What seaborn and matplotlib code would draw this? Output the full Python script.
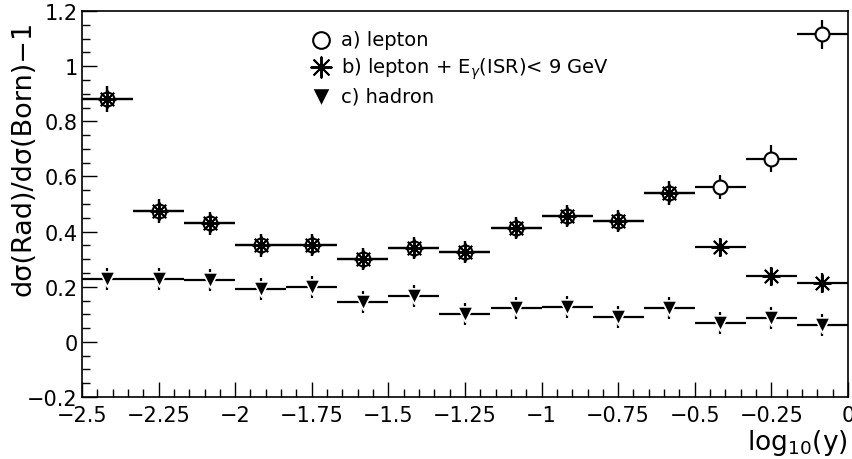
import matplotlib
matplotlib.use("Agg")
import matplotlib.pyplot as plt
import seaborn as sns
import pandas as pd
from matplotlib.ticker import MultipleLocator, FuncFormatter

# ---- data ----
bin_centers = [-2.4167, -2.25, -2.0833, -1.9167, -1.75, -1.5833, -1.4167, -1.25,
               -1.0833, -0.9167, -0.75, -0.5833, -0.4167, -0.25, -0.0833]
bin_halfwidth = [0.0833] * 15

lepton = [0.88, 0.475, 0.43, 0.35, 0.35, 0.30, 0.34, 0.327, 0.413, 0.455, 0.437,
          0.54, 0.562, 0.665, 1.115]
lepton_err = [0.048, 0.043, 0.041, 0.041, 0.04, 0.04, 0.04, 0.04, 0.04, 0.04, 0.04,
              0.042, 0.044, 0.048, 0.053]

lepton_isr = [0.88, 0.475, 0.43, 0.35, 0.35, 0.30, 0.34, 0.327, 0.413, 0.455, 0.437,
              0.54, 0.343, 0.238, 0.214]
lepton_isr_err = [0.048, 0.043, 0.041, 0.041, 0.04, 0.04, 0.04, 0.04, 0.04, 0.04, 0.04,
                  0.042, 0.035, 0.035, 0.035]

hadron = [0.227, 0.227, 0.225, 0.192, 0.20, 0.146, 0.167, 0.10, 0.122, 0.128, 0.091,
          0.123, 0.069, 0.088, 0.062]
hadron_err = [0.04] * 15

labels = ["a) lepton", r"b) lepton + E$_\gamma$(ISR)< 9 GeV", "c) hadron"]

x_ticks = [-2.5, -2.25, -2.0, -1.75, -1.5, -1.25, -1.0, -0.75, -0.5, -0.25, 0.0]
y_ticks = [-0.2, 0.0, 0.2, 0.4, 0.6, 0.8, 1.0, 1.2]

# ---- figure ----
sns.set_style("ticks")
plt.rcParams["font.family"] = ["DejaVu Sans"]
plt.rcParams["text.color"] = "black"
plt.rcParams["axes.labelcolor"] = "black"

fig = plt.figure(figsize=(8.53, 4.6), dpi=100)
ax = fig.add_axes([0.0961, 0.1348, 0.898, 0.839])

df_a = pd.DataFrame({"x": bin_centers, "y": lepton})
df_b = pd.DataFrame({"x": bin_centers, "y": lepton_isr})
df_c = pd.DataFrame({"x": bin_centers, "y": hadron})

for yv, ye in [(lepton, lepton_err), (lepton_isr, lepton_isr_err), (hadron, hadron_err)]:
    ax.errorbar(bin_centers, yv, xerr=bin_halfwidth, yerr=ye, fmt="none",
                ecolor="black", elinewidth=1.6, capsize=0, zorder=2)

sns.scatterplot(data=df_a, x="x", y="y", ax=ax, marker="o", s=100,
                facecolor="white", edgecolor="black", linewidth=1.5,
                zorder=3, label=labels[0])
sns.scatterplot(data=df_b, x="x", y="y", ax=ax, marker=(8, 2, 0), s=150,
                color="black", linewidth=1.4, zorder=4, label=labels[1])
sns.scatterplot(data=df_c, x="x", y="y", ax=ax, marker="v", s=120,
                color="black", edgecolor="white", linewidth=1.2,
                zorder=3, label=labels[2])

ax.set_xlim(-2.5, 0.0)
ax.set_ylim(-0.2, 1.2)

def fmt(v, pos):
    s = "%g" % round(v, 3)
    if s == "-0":
        s = "0"
    return s.replace("-", "\u2212")

ax.set_xticks(x_ticks)
ax.set_yticks(y_ticks)
ax.xaxis.set_major_formatter(FuncFormatter(fmt))
ax.yaxis.set_major_formatter(FuncFormatter(fmt))
ax.xaxis.set_minor_locator(MultipleLocator(0.05))
ax.yaxis.set_minor_locator(MultipleLocator(0.05))
ax.tick_params(which="both", direction="in", top=False, right=False, labelsize=15,
               width=1.0, colors="black")
ax.tick_params(which="major", length=11)
ax.tick_params(which="minor", length=6)
ax.tick_params(axis="x", pad=6)
ax.tick_params(axis="y", pad=3)
for sp in ax.spines.values():
    sp.set_linewidth(1.2)
    sp.set_color("black")

ax.set_xlabel("log$_{10}$(y)", fontsize=19, loc="right", labelpad=1, color="black")
ax.set_ylabel("d\u03c3(Rad)/d\u03c3(Born)\u22121", fontsize=19.5, color="black")
ax.yaxis.set_label_coords(-0.06, 0.62)

leg = ax.legend(loc="upper left", bbox_to_anchor=(0.282, 0.985), frameon=False,
                fontsize=14, handletextpad=0.5, labelspacing=0.3, borderaxespad=0.3,
                handlelength=1.0, markerscale=1.2)
for t in leg.get_texts():
    t.set_color("black")

fig.savefig("out.png", dpi=100)
